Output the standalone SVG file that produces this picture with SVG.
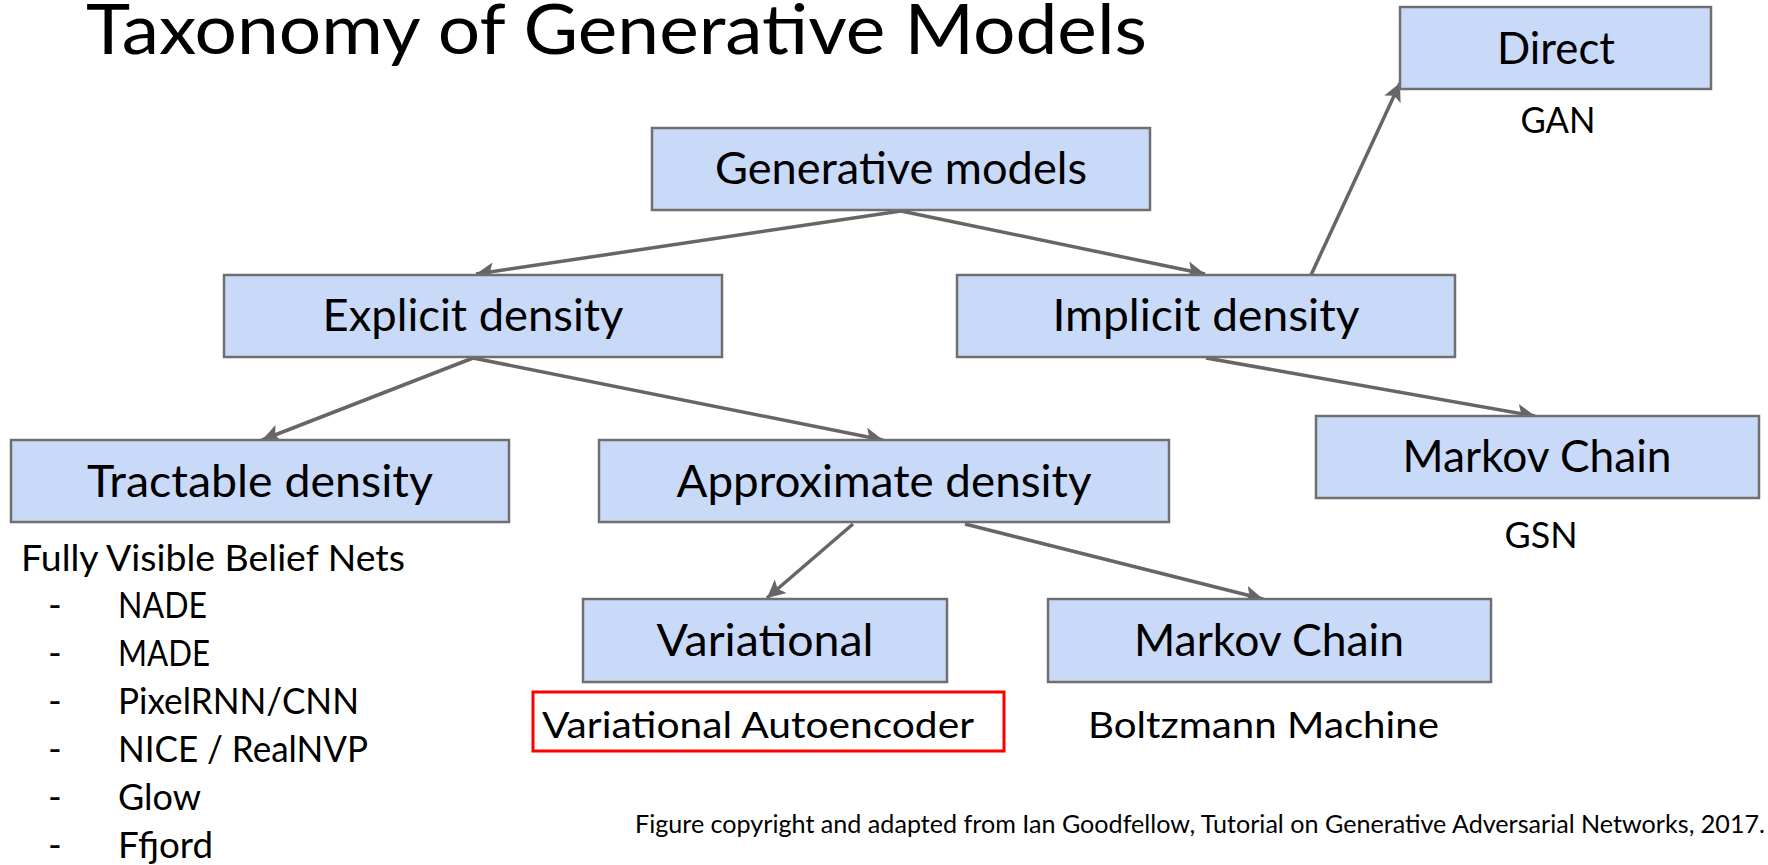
<svg xmlns="http://www.w3.org/2000/svg" width="1768" height="865" viewBox="0 0 1768 865">
<defs>
<style>
.box{fill:#c9daf8;stroke:#6f6f6f;stroke-width:2.5}
.nl{font-family:Lato,"Open Sans","Liberation Sans",sans-serif;font-size:44px;fill:#000;text-anchor:middle}
.cap{font-family:Lato,"Open Sans","Liberation Sans",sans-serif;font-size:37px;fill:#000}
.edge{stroke:#666;stroke-width:3.5;fill:none;marker-end:url(#arr)}
</style>
<marker id="arr" markerUnits="userSpaceOnUse" markerWidth="20" markerHeight="18" refX="18" refY="9" orient="auto">
<path d="M0,0 L18,9 L0,18 L4,9 Z" fill="#666"/>
</marker>
</defs>
<rect width="1768" height="865" fill="#fff"/>
<text x="86" y="54" font-family="Lato,'Open Sans','Liberation Sans',sans-serif" font-size="70" textLength="1061" lengthAdjust="spacingAndGlyphs">Taxonomy of Generative Models</text>

<g id="connectors">
<line class="edge" x1="901" y1="211" x2="476" y2="274"/>
<line class="edge" x1="901" y1="211" x2="1205" y2="274"/>
<line class="edge" x1="1311" y1="275" x2="1400" y2="83"/>
<line class="edge" x1="1206" y1="358" x2="1535" y2="416"/>
<line class="edge" x1="473" y1="358" x2="262" y2="440"/>
<line class="edge" x1="473" y1="358" x2="883" y2="440"/>
<line class="edge" x1="853" y1="524" x2="767" y2="598"/>
<line class="edge" x1="965" y1="524" x2="1263" y2="599"/>
</g>

<g id="generative-models">
<rect class="box" x="652" y="128" width="498" height="82"/>
<text class="nl" x="901" y="184" textLength="372" lengthAdjust="spacingAndGlyphs">Generative models</text>
</g>
<g id="explicit-density">
<rect class="box" x="224" y="275" width="498" height="82"/>
<text class="nl" x="473" y="331" textLength="301" lengthAdjust="spacingAndGlyphs">Explicit density</text>
</g>
<g id="implicit-density">
<rect class="box" x="957" y="275" width="498" height="82"/>
<text class="nl" x="1206" y="331" textLength="307" lengthAdjust="spacingAndGlyphs">Implicit density</text>
</g>
<g id="direct">
<rect class="box" x="1400" y="7" width="311" height="82"/>
<text class="nl" x="1556" y="64" textLength="118" lengthAdjust="spacingAndGlyphs">Direct</text>
<text class="cap" x="1558" y="133" text-anchor="middle" textLength="75" lengthAdjust="spacingAndGlyphs">GAN</text>
</g>
<g id="markov-chain-implicit">
<rect class="box" x="1316" y="416" width="443" height="82"/>
<text class="nl" x="1537" y="472" textLength="269" lengthAdjust="spacingAndGlyphs">Markov Chain</text>
<text class="cap" x="1541" y="548" text-anchor="middle" textLength="73" lengthAdjust="spacingAndGlyphs">GSN</text>
</g>
<g id="tractable-density">
<rect class="box" x="11" y="440" width="498" height="82"/>
<text class="nl" x="260" y="497" textLength="346" lengthAdjust="spacingAndGlyphs">Tractable density</text>
<text class="cap" x="21" y="571" textLength="384" lengthAdjust="spacingAndGlyphs">Fully Visible Belief Nets</text>
<text class="cap" x="48" y="618">-</text>
<text class="cap" x="118" y="618" textLength="89" lengthAdjust="spacingAndGlyphs">NADE</text>
<text class="cap" x="48" y="666">-</text>
<text class="cap" x="118" y="666" textLength="92" lengthAdjust="spacingAndGlyphs">MADE</text>
<text class="cap" x="48" y="714">-</text>
<text class="cap" x="118" y="714" textLength="241" lengthAdjust="spacingAndGlyphs">PixelRNN/CNN</text>
<text class="cap" x="48" y="762">-</text>
<text class="cap" x="118" y="762" textLength="250" lengthAdjust="spacingAndGlyphs">NICE / RealNVP</text>
<text class="cap" x="48" y="810">-</text>
<text class="cap" x="118" y="810" textLength="83" lengthAdjust="spacingAndGlyphs">Glow</text>
<text class="cap" x="48" y="858">-</text>
<text class="cap" x="118" y="858" textLength="95" lengthAdjust="spacingAndGlyphs">Ffjord</text>
</g>
<g id="approximate-density">
<rect class="box" x="599" y="440" width="570" height="82"/>
<text class="nl" x="884" y="497" textLength="415" lengthAdjust="spacingAndGlyphs">Approximate density</text>
</g>
<g id="variational">
<rect class="box" x="583" y="599" width="364" height="83"/>
<text class="nl" x="765" y="656" textLength="217" lengthAdjust="spacingAndGlyphs">Variational</text>
<rect x="533" y="692" width="471" height="59" fill="none" stroke="#ff0000" stroke-width="3"/>
<text class="cap" x="542" y="738" textLength="432" lengthAdjust="spacingAndGlyphs">Variational Autoencoder</text>
</g>
<g id="markov-chain-approx">
<rect class="box" x="1048" y="599" width="443" height="83"/>
<text class="nl" x="1269" y="656" textLength="270" lengthAdjust="spacingAndGlyphs">Markov Chain</text>
<text class="cap" x="1088" y="738" textLength="351" lengthAdjust="spacingAndGlyphs">Boltzmann Machine</text>
</g>
<text x="635" y="833" font-family="Lato,'Open Sans','Liberation Sans',sans-serif" font-size="25" textLength="1130" lengthAdjust="spacingAndGlyphs">Figure copyright and adapted from Ian Goodfellow, Tutorial on Generative Adversarial Networks, 2017.</text>
</svg>
